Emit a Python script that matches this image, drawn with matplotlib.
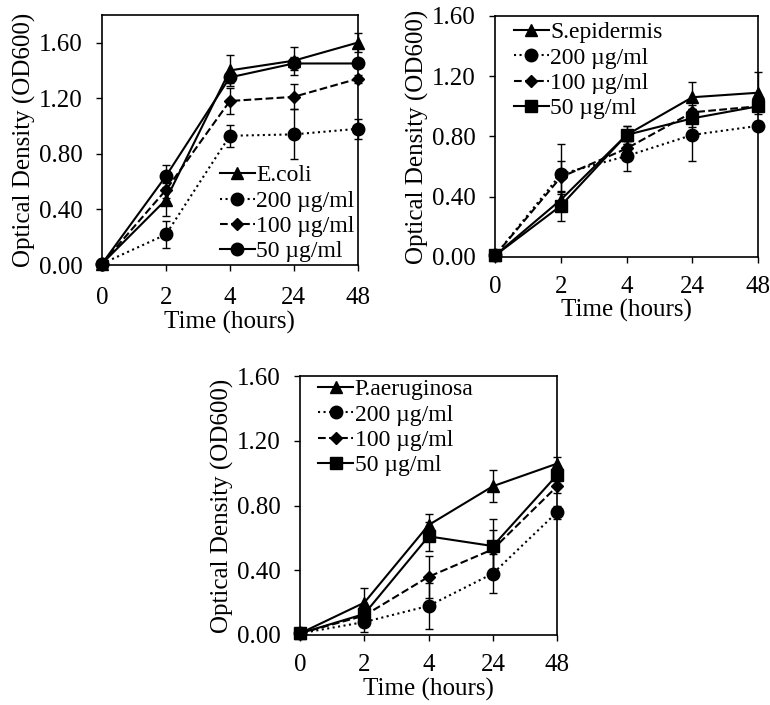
import matplotlib
matplotlib.use("Agg")
import matplotlib.pyplot as plt

plt.rcParams['font.family'] = ['Liberation Serif', 'DejaVu Serif']

# Времена отбора проб (категориальная ось)
times = ['0', '2', '4', '24', '48']

# E. coli
ecoli = [0.01, 0.47, 1.40, 1.47, 1.60]
ecoli_err = [0.0, 0.12, 0.11, 0.10, 0.07]
ecoli_200 = [0.01, 0.22, 0.93, 0.94, 0.98]
ecoli_200_err = [0.0, 0.095, 0.08, 0.18, 0.07]
ecoli_100 = [0.01, 0.54, 1.18, 1.21, 1.34]
ecoli_100_err = [0.0, 0.06, 0.09, 0.09, 0.03]
ecoli_50 = [0.01, 0.64, 1.35, 1.45, 1.45]
ecoli_50_err = [0.0, 0.08, 0.04, 0.05, 0.02]

# S. epidermis
sepi = [0.01, 0.38, 0.81, 1.06, 1.09]
sepi_err = [0.0, 0.05, 0.06, 0.10, 0.14]
sepi_200 = [0.01, 0.55, 0.67, 0.81, 0.87]
sepi_200_err = [0.0, 0.20, 0.10, 0.17, 0.03]
sepi_100 = [0.01, 0.53, 0.72, 0.96, 1.00]
sepi_100_err = [0.0, 0.11, 0.05, 0.05, 0.03]
sepi_50 = [0.01, 0.34, 0.81, 0.92, 1.00]
sepi_50_err = [0.0, 0.10, 0.06, 0.06, 0.03]

# P. aeruginosa
paer = [0.01, 0.20, 0.68, 0.92, 1.06]
paer_err = [0.0, 0.09, 0.07, 0.10, 0.04]
paer_200 = [0.01, 0.08, 0.18, 0.38, 0.76]
paer_200_err = [0.0, 0.06, 0.14, 0.12, 0.04]
paer_100 = [0.01, 0.12, 0.36, 0.53, 0.92]
paer_100_err = [0.0, 0.04, 0.13, 0.12, 0.04]
paer_50 = [0.01, 0.13, 0.61, 0.55, 0.99]
paer_50_err = [0.0, 0.03, 0.09, 0.17, 0.04]

yticks = [0.0, 0.4, 0.8, 1.2, 1.6]
conc_labels = ['200 \u00b5g/ml', '100 \u00b5g/ml', '50 \u00b5g/ml']


def draw_panel(ax, series, labels, markers, ymax, legend_anchor, xpad):
    x = range(len(times))
    styles = ['-', ':', '--', '-']
    sizes = {'^': 9, 'o': 9, 'D': 6.5, 's': 9}
    for (vals, err), lab, mk, ls in zip(series, labels, markers, styles):
        # усы погрешностей отдельно, чтобы не попали в легенду
        ax.errorbar(x, vals, yerr=err, fmt='none', ecolor='black', capsize=3,
                    elinewidth=1, capthick=1, clip_on=False, zorder=3)
        ax.plot(x, vals, color='black', linestyle=ls, linewidth=1.5,
                marker=mk, markersize=sizes[mk], label=lab, clip_on=False, zorder=3)
    ax.set_xlim(0, len(times) - 1)
    ax.set_ylim(0, ymax)
    ax.set_xticks(list(x))
    ax.set_xticklabels(times)
    ax.set_yticks(yticks)
    ax.set_yticklabels(['%.2f' % v for v in yticks])
    ax.tick_params(direction='out', length=4, width=1, labelsize=18)
    ax.tick_params(axis='y', pad=10)
    ax.tick_params(axis='x', pad=xpad)
    for sp in ax.spines.values():
        sp.set_linewidth(1.2)
    ax.set_xlabel('Time (hours)', fontsize=18, labelpad=1)
    ax.set_ylabel('Optical Density (OD600)', fontsize=18, labelpad=2)
    ax.legend(loc='upper left', bbox_to_anchor=legend_anchor, frameon=False,
              fontsize=17, handlelength=1.5, handletextpad=0.05,
              labelspacing=0.16, borderpad=0, borderaxespad=0)


fig = plt.figure(figsize=(7.7, 7.05), dpi=100)

ax1 = fig.add_axes([0.1325, 0.624, 0.332, 0.355])
draw_panel(ax1,
           [(ecoli, ecoli_err), (ecoli_200, ecoli_200_err),
            (ecoli_100, ecoli_100_err), (ecoli_50, ecoli_50_err)],
           ['E.coli'] + conc_labels, ['^', 'o', 'D', 'o'], 1.8, (0.46, 0.40), 12)

ax2 = fig.add_axes([0.643, 0.6355, 0.3416, 0.342])
draw_panel(ax2,
           [(sepi, sepi_err), (sepi_200, sepi_200_err),
            (sepi_100, sepi_100_err), (sepi_50, sepi_50_err)],
           ['S.epidermis'] + conc_labels, ['^', 'o', 'D', 's'], 1.6, (0.07, 0.975), 9.5)

ax3 = fig.add_axes([0.3896, 0.0993, 0.334, 0.367])
draw_panel(ax3,
           [(paer, paer_err), (paer_200, paer_200_err),
            (paer_100, paer_100_err), (paer_50, paer_50_err)],
           ['P.aeruginosa'] + conc_labels, ['^', 'o', 'D', 's'], 1.6, (0.07, 0.99), 10)

fig.savefig('out.png', dpi=100)
